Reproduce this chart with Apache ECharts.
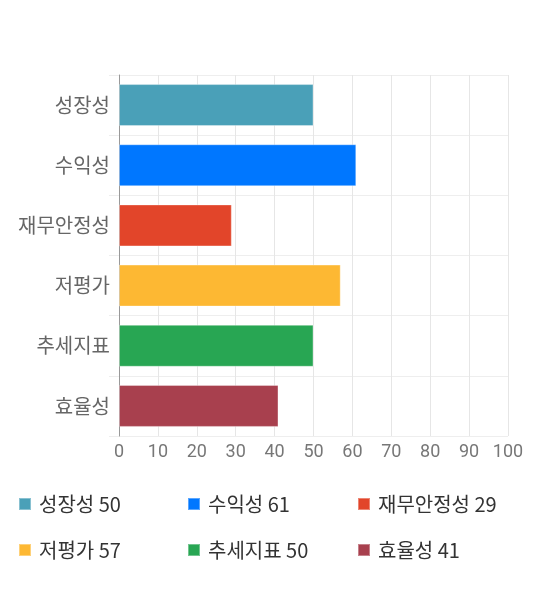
<!DOCTYPE html>
<html><head><meta charset="utf-8">
<script src="https://cdn.jsdelivr.net/npm/echarts@6/dist/echarts.min.js"></script>
<style>html,body{margin:0;padding:0;background:#fff}#c{width:540px;height:590px}</style>
</head><body><div id="c"></div>
<script>
const categories = ['성장성','수익성','재무안정성','저평가','추세지표','효율성'];
const values = [50, 61, 29, 57, 50, 41];
const colors = ['#4aa0b8','#0077ff','#e2452a','#fdb833','#28a653','#a8404e'];
const xTicks = {min:0, max:100, interval:10};

const FONT = '"Noto Sans CJK KR", "Noto Sans", sans-serif';
const chart = echarts.init(document.getElementById('c'));
const series = categories.map((c,i)=>({
  name: c, type:'bar', stack:'s', barWidth: 42,
  data: categories.map((_,j)=> j===i ? values[i] : '-'),
  itemStyle:{color:colors[i], borderColor:'rgba(255,255,255,0.35)', borderWidth:1},
  emphasis:{disabled:true}
}));
const legPos = [[18,498],[187,498],[357,498],[18,544],[187,544],[357,544]];
const legends = categories.map((c,i)=>({
  data:[c], left:legPos[i][0], top:legPos[i][1]-4, itemWidth:12, itemHeight:12, itemGap:0,
  icon:'rect', padding:0,
  formatter: n => n + ' ' + values[i],
  textStyle:{fontFamily:FONT, fontSize:20, color:'#333', padding:[0,0,0,3]},
  selectedMode:false
}));
chart.setOption({
  animation:false,
  legend: legends,
  grid:{left:119, right:32, top:75, bottom:154},
  xAxis:{type:'value', min:xTicks.min, max:xTicks.max, interval:xTicks.interval,
    axisLine:{show:false}, axisTick:{show:false},
    splitLine:{lineStyle:{color:'#e6e6e6'}},
    axisLabel:{fontFamily:'Roboto, "Noto Sans", sans-serif', fontSize:18, color:'#777', margin:7}},
  yAxis:{type:'category', data:categories, inverse:true,
    axisLine:{show:true, lineStyle:{color:'#999'}},
    axisTick:{show:true, length:10, lineStyle:{color:'#eee'}},
    splitLine:{show:true, lineStyle:{color:'#eee'}},
    axisLabel:{fontFamily:FONT, fontSize:20, color:'#666', margin:9}},
  series
});
</script></body></html>
